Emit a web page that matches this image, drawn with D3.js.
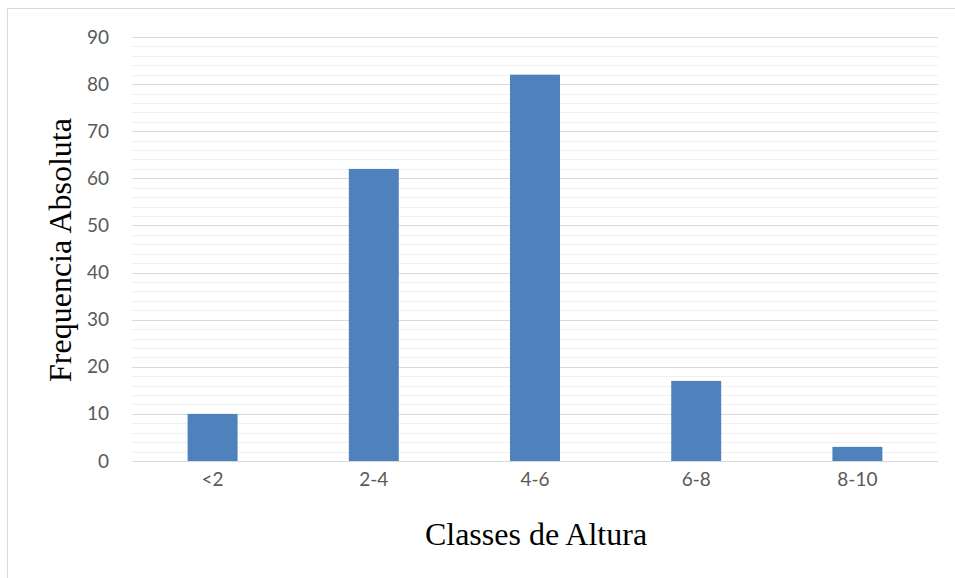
<!DOCTYPE html>
<html><head><meta charset="utf-8">
<script src="https://cdn.jsdelivr.net/npm/d3@7"></script>
<style>html,body{margin:0;padding:0;background:#fff;}</style>
</head><body>
<svg id="chart" width="955" height="578"></svg>
<script>
const categories = ["<2", "2-4", "4-6", "6-8", "8-10"];
const values = [10, 62, 82, 17, 3];
const yTicks = [0, 10, 20, 30, 40, 50, 60, 70, 80, 90];
const xTitle = "Classes de Altura";
const yTitle = "Frequencia Absoluta";

const svg = d3.select("#chart");
const W = 955, H = 578;
const m = {left: 132, right: 17, top: 37, bottom: 117};
const pw = W - m.left - m.right, ph = H - m.top - m.bottom;

svg.append("rect").attr("x", 7.5).attr("y", 8.5).attr("width", 960).attr("height", 580)
  .attr("fill", "#fff").attr("stroke", "#d9d9d9").attr("stroke-width", 1);

const x = d3.scaleBand().domain(categories).range([m.left, m.left + pw]).paddingInner(0.69).paddingOuter(0.345);
const y = d3.scaleLinear().domain([0, 90]).range([m.top + ph, m.top]);

const g = svg.append("g");
g.selectAll("line.minor").data(d3.range(0, 91, 2).filter(v => v % 10 !== 0)).enter().append("line")
  .attr("x1", m.left).attr("x2", m.left + pw)
  .attr("y1", d => Math.round(y(d)) + 0.5).attr("y2", d => Math.round(y(d)) + 0.5)
  .attr("stroke", "#f0f0f0").attr("stroke-width", 1);
g.selectAll("line.major").data(yTicks).enter().append("line")
  .attr("x1", m.left).attr("x2", m.left + pw)
  .attr("y1", d => Math.round(y(d)) + 0.5).attr("y2", d => Math.round(y(d)) + 0.5)
  .attr("stroke", "#d9d9d9").attr("stroke-width", 1);

g.selectAll("rect.bar").data(values).enter().append("rect")
  .attr("x", (d, i) => x(categories[i])).attr("width", x.bandwidth())
  .attr("y", d => y(d)).attr("height", d => y(0) - y(d))
  .attr("fill", "#4f81bd");

const yAxis = d3.axisLeft(y).tickValues(yTicks).tickSize(0).tickPadding(0);
const ya = svg.append("g").attr("transform", `translate(${m.left - 23},0)`).call(yAxis);
ya.select(".domain").remove();
ya.selectAll("text").attr("font-family", "Lato, 'Open Sans', sans-serif").attr("font-size", 19).attr("fill", "#595959");

const xAxis = d3.axisBottom(x).tickSize(0).tickPadding(0);
const xa = svg.append("g").attr("transform", `translate(0,${m.top + ph + 11})`).call(xAxis);
xa.select(".domain").remove();
xa.selectAll("text").attr("font-family", "Lato, 'Open Sans', sans-serif").attr("font-size", 19).attr("fill", "#595959");

svg.append("text").attr("x", 536).attr("y", 545).attr("text-anchor", "middle")
  .attr("font-family", "'Liberation Serif', 'Times New Roman', serif").attr("font-size", 32).attr("fill", "#000")
  .text(xTitle);
svg.append("text").attr("transform", "translate(71,250) rotate(-90)").attr("text-anchor", "middle")
  .attr("font-family", "'Liberation Serif', 'Times New Roman', serif").attr("font-size", 32).attr("fill", "#000")
  .text(yTitle);
</script>
</body></html>
